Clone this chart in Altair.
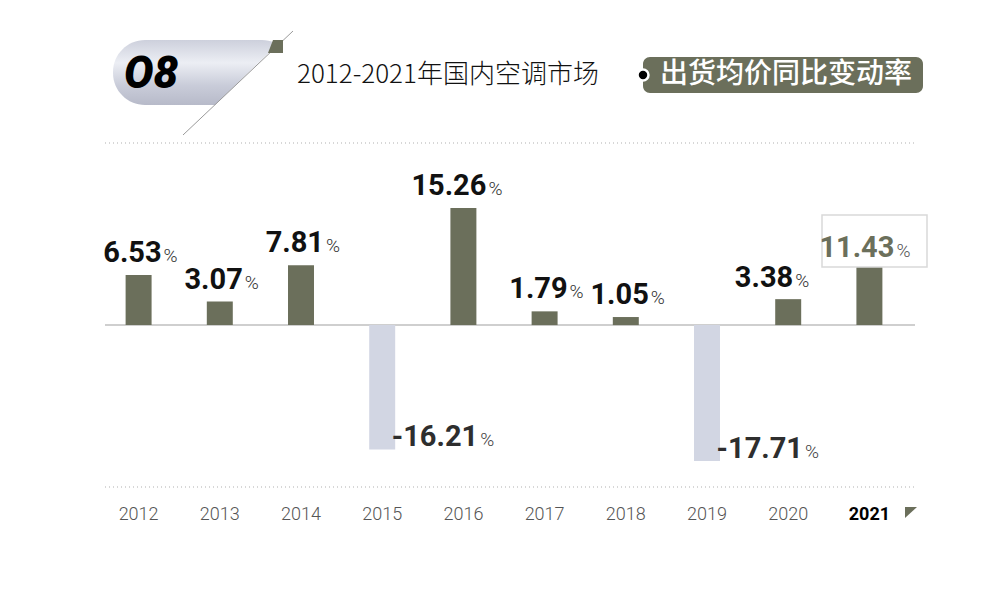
import altair as alt
import pandas as pd

years = ["2012", "2013", "2014", "2015", "2016", "2017", "2018", "2019", "2020", "2021"]
values = [6.53, 3.07, 7.81, -16.21, 15.26, 1.79, 1.05, -17.71, 3.38, 11.43]

title_text = "2012-2021年国内空调市场"
badge_text = "O8"
pill_text = "出货均价同比变动率"

OLIVE = "#6b6f5b"
NEG = "#d2d6e3"
NUMFONT = "Roboto"
CJK = "Noto Sans CJK SC"

df = pd.DataFrame({"year": years, "value": values})

W, H = 812, 344
YDOM = [-21.1, 23.73]
X = alt.X("year:N", sort=years, axis=None,
          scale=alt.Scale(paddingInner=0.68, paddingOuter=0.34))
Y = alt.Y("value:Q", axis=None,
          scale=alt.Scale(domain=YDOM, nice=False, zero=False))

one = alt.Data(values=[{}])


def poly(points):
    xs = [p[0] for p in points]
    ys = [p[1] for p in points]
    cx = (min(xs) + max(xs)) / 2
    cy = (min(ys) + max(ys)) / 2
    r = max(max(xs) - min(xs), max(ys) - min(ys)) / 2
    path = "M " + " L ".join(f"{(x - cx) / r:.4f} {(y - cy) / r:.4f}" for x, y in points) + " Z"
    return cx, cy, (2 * r) ** 2, path


def shape_layer(points, fill):
    cx, cy, size, path = poly(points)
    return alt.Chart(one).mark_point(shape=path, size=size, filled=True, fill=fill,
                                     opacity=1, strokeOpacity=0).encode(
        x=alt.value(cx), y=alt.value(cy))


# guide lines
dotted = alt.Chart(alt.Data(values=[{"p": 0}, {"p": H}])).mark_rule(
    color="#b0b0b0", strokeDash=[1, 3], strokeWidth=1.2).encode(
    x=alt.value(7), x2=alt.value(817), y=alt.Y("p:Q", scale=None))

zero = alt.Chart(one).mark_rule(color="#cfcfcf", strokeWidth=2).encode(
    x=alt.value(7), x2=alt.value(817),
    y=alt.Y(datum=0, scale=alt.Scale(domain=YDOM, nice=False, zero=False), axis=None))

base = alt.Chart(df).transform_calculate(
    label="(datum.value < 0 ? '-' : '') + format(abs(datum.value), '.2f')")

bars = base.mark_bar().encode(
    x=X, y=Y, y2=alt.Y2(datum=0),
    color=alt.condition("datum.value > 0", alt.value(OLIVE), alt.value(NEG)))

box2021 = alt.Chart(one).mark_rect(fill="white", stroke="#d9d9d9", strokeWidth=1.5).encode(
    x=alt.value(724), x2=alt.value(829), y=alt.value(72), y2=alt.value(124))


def label_pair(filt, dx, dy, color, pct_color):
    d = base.transform_filter(filt)
    num = d.mark_text(align="right", baseline="alphabetic", dx=dx, dy=dy, font=NUMFONT,
                      fontSize=29, fontWeight="bold", color=color).encode(
        x=X, y=Y, text="label:N")
    pct = d.mark_text(align="left", baseline="alphabetic", dx=dx + 2, dy=dy, font=NUMFONT,
                      fontSize=19, fontWeight=300, color=pct_color, text="%").encode(x=X, y=Y)
    return [num, pct]


labels = []
labels += label_pair("datum.value > 0 && datum.year != '2020' && datum.year != '2021'", 23, -13, "#111111", "#333333")
labels += label_pair("datum.year == '2020'", 5, -12, "#111111", "#333333")
labels += label_pair("datum.year == '2021'", 25, 20, OLIVE, "#555555")
labels += label_pair("datum.value < 0", 96, -3, "#2e2e2e", "#444444")

year_labels = base.transform_filter("datum.year != '2021'").mark_text(
    baseline="middle", font=NUMFONT, fontSize=18, fontWeight=300, color="#555555").encode(
    x=X, y=alt.value(372), text="year:N")
year_last = base.transform_filter("datum.year == '2021'").mark_text(
    baseline="middle", font=NUMFONT, fontSize=18, fontWeight="bold", color="#000000").encode(
    x=X, y=alt.value(372), text="year:N")

corner_tri = shape_layer([(807, 364), (819, 364), (807, 375)], OLIVE)

# header
badge = alt.Chart(one).mark_rect(
    cornerRadius=32,
    fill=alt.LinearGradient(gradient="linear", x1=0, y1=0, x2=0, y2=1, stops=[
        alt.GradientStop(offset=0, color="#cdd0dc"),
        alt.GradientStop(offset=0.35, color="#eceef4"),
        alt.GradientStop(offset=0.7, color="#c9ccd9"),
        alt.GradientStop(offset=1, color="#b7bac9")])).encode(
    x=alt.value(15), x2=alt.value(196), y=alt.value(-103), y2=alt.value(-38))
cover = shape_layer([(116, -37), (185, -104), (205, -104), (205, -37)], "white")
diag = alt.Chart(one).mark_rule(color="#9a9a9a", strokeWidth=1).encode(
    x=alt.value(85), y=alt.value(-8), x2=alt.value(195), y2=alt.value(-112))
olive_bit = shape_layer([(175, -103), (185, -103), (185, -90), (170, -90)], OLIVE)
badge_txt = alt.Chart(one).mark_text(text=badge_text, align="left", baseline="middle",
                                     font="Roboto", fontSize=44, fontWeight=900,
                                     fontStyle="italic", color="#000000").encode(
    x=alt.value(26), y=alt.value(-68))
title = alt.Chart(one).mark_text(text=title_text, align="left", baseline="middle",
                                 font=CJK, fontSize=26, fontWeight=300, color="#111111").encode(
    x=alt.value(199), y=alt.value(-68))
pill = alt.Chart(one).mark_rect(cornerRadius=7, fill=OLIVE).encode(
    x=alt.value(545), x2=alt.value(825), y=alt.value(-86), y2=alt.value(-50))
pill_txt = alt.Chart(one).mark_text(text=pill_text, align="left", baseline="middle",
                                    font=CJK, fontSize=28, fontWeight=500, color="white").encode(
    x=alt.value(562), y=alt.value(-68))
dot = alt.Chart(one).mark_circle(size=120, color="#000000", opacity=1, stroke="white",
                                 strokeWidth=2.5).encode(x=alt.value(545), y=alt.value(-68))

chart = alt.layer(
    dotted, zero, bars, box2021, *labels, year_labels, year_last, corner_tri,
    badge, cover, diag, olive_bit, badge_txt, title, pill, pill_txt, dot
).resolve_scale(y="independent").properties(
    width=W, height=H,
    autosize=alt.AutoSizeParams(type="none"),
    padding={"left": 90, "top": 135, "right": 82, "bottom": 120},
    background="white",
).configure_view(strokeWidth=0)

chart.save("out.html", embed_options={"renderer": "svg", "actions": False})
